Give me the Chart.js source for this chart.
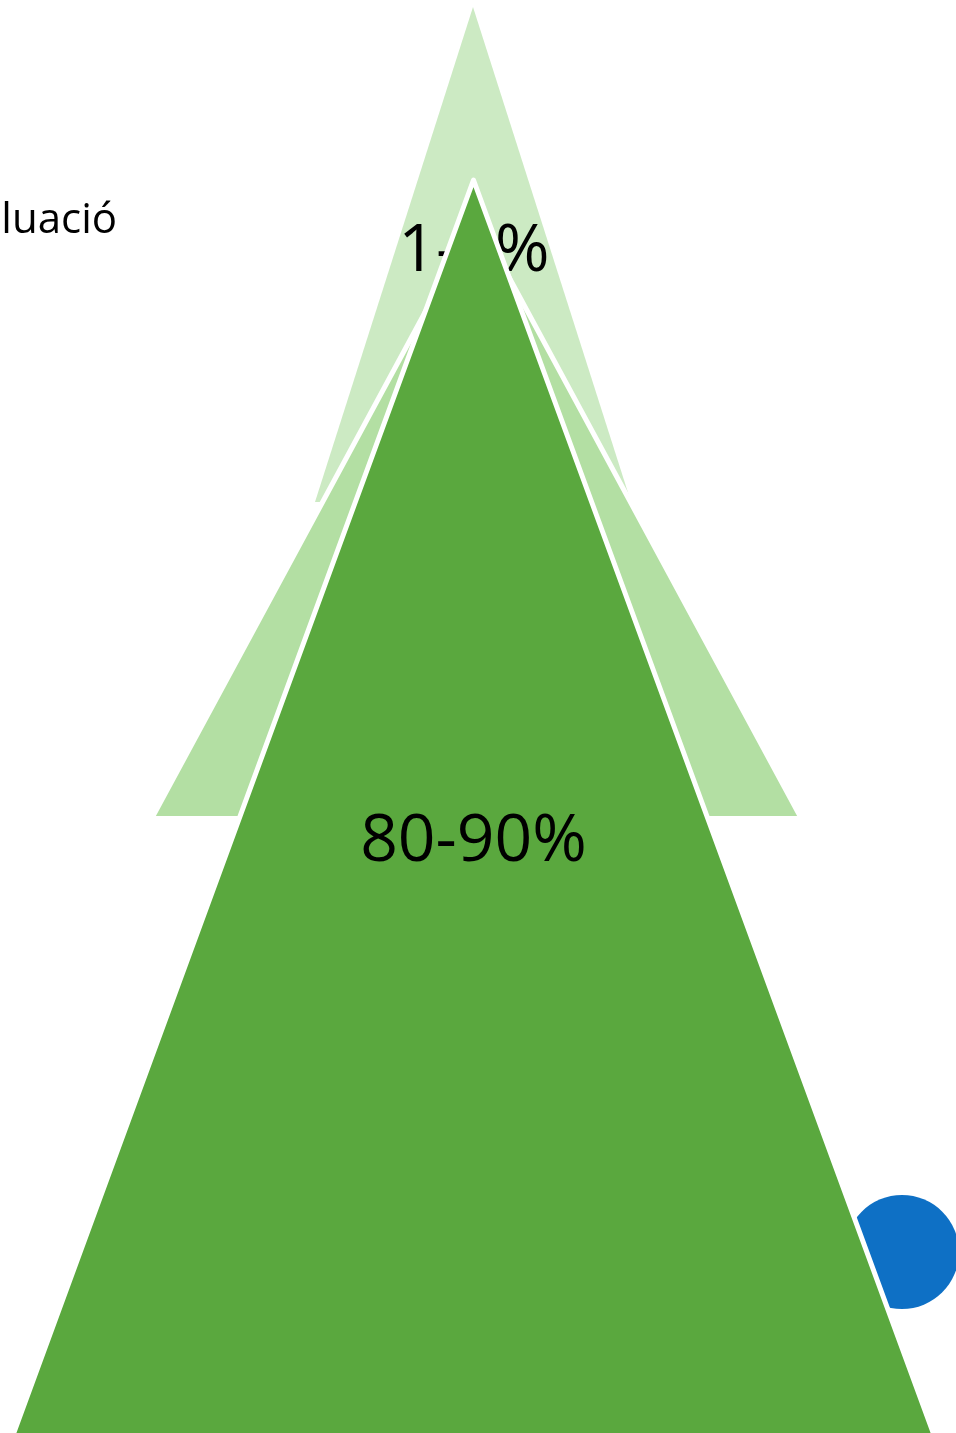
<!DOCTYPE html>
<html>
<head>
<meta charset="utf-8">
<script src="https://cdn.jsdelivr.net/npm/chart.js@4/dist/chart.umd.min.js"></script>
<style>
  html, body { margin: 0; padding: 0; background: #ffffff; }
  #wrap { width: 956px; height: 1433px; position: relative; }
</style>
</head>
<body>
<div id="wrap"><canvas id="c"></canvas></div>
<script>
// ---- data ----
const tiers      = ['1-5%', 'mid', '80-90%'];
const apexX      = [473, 476.5, 473.5];
const apexY      = [7, 217, 180];
const baseY      = [502, 816, 1480];
const baseLeft   = [315, 153, -3.5];
const baseRight  = [631, 800, 950.5];
const dotX       = [902];
const dotY       = [1252];
const labelTexts = ['Avaluació', '1-5%', '80-90%'];

// ---- styles / layout ----
const tierColors = ['#CCEAC3', '#B3DFA3', '#5AA83E'];
const tierBorder = [0, 5, 5];
const tierOrder  = [5, 4, 1];
const labelLayout = [
  { x: 117, y: 233, font: '42px "Open Sans"', align: 'right', after: 0 },
  { x: 474, y: 271, font: '66px "Open Sans"', align: 'center', after: 0 },
  { x: 473.5, y: 861, font: '66px "Open Sans"', align: 'center', after: 2 }
];

const datasets = tiers.map((name, i) => ({
  label: name,
  data: [
    { x: baseLeft[i], y: baseY[i] },
    { x: apexX[i], y: apexY[i] },
    { x: baseRight[i], y: baseY[i] }
  ],
  showLine: true,
  tension: 0,
  pointRadius: 0,
  pointHoverRadius: 0,
  backgroundColor: tierColors[i],
  borderColor: '#ffffff',
  borderWidth: tierBorder[i],
  borderJoinStyle: 'round',
  fill: { value: baseY[i] },
  order: tierOrder[i]
}));

datasets.push({
  label: 'dot',
  data: dotX.map((x, i) => ({ x, y: dotY[i] })),
  showLine: false,
  pointRadius: 57,
  pointHoverRadius: 57,
  pointBackgroundColor: '#0E70C5',
  pointBorderWidth: 0,
  pointBorderColor: '#0E70C5',
  order: 2
});

const labelPlugin = {
  id: 'tierLabels',
  afterDatasetDraw(chart, args) {
    const ctx = chart.ctx;
    const xs = chart.scales.x, ys = chart.scales.y;
    labelLayout.forEach((l, i) => {
      if (l.after !== args.index) return;
      ctx.save();
      ctx.font = l.font;
      ctx.fillStyle = '#000000';
      ctx.textAlign = l.align;
      ctx.textBaseline = 'alphabetic';
      ctx.fillText(labelTexts[i], xs.getPixelForValue(l.x), ys.getPixelForValue(l.y));
      ctx.restore();
    });
  }
};

new Chart(document.getElementById('c'), {
  type: 'scatter',
  data: { datasets },
  options: {
    responsive: true,
    maintainAspectRatio: false,
    animation: false,
    layout: { padding: 0, autoPadding: false },
    plugins: {
      legend: { display: false },
      tooltip: { enabled: false },
      title: { display: false }
    },
    scales: {
      x: { type: 'linear', min: 0, max: 956, display: false },
      y: { type: 'linear', min: 0, max: 1433, reverse: true, display: false }
    }
  },
  plugins: [labelPlugin]
});
</script>
</body>
</html>
